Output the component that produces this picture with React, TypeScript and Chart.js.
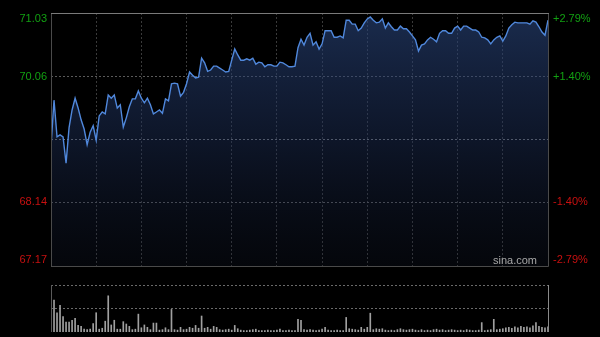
import React, { useEffect, useRef } from 'react';
import { Chart, registerables } from 'chart.js';

Chart.register(...registerables);

// ---- data (2-minute samples over a 330-minute HK trading session) ----
const prices = [
  68.99, 69.70, 69.14, 69.17, 69.14, 68.74, 69.28, 69.55, 69.73, 69.58,
  69.40, 69.26, 69.02, 69.21, 69.31, 69.09, 69.46, 69.52, 69.49, 69.78,
  69.73, 69.78, 69.58, 69.63, 69.29, 69.43, 69.60, 69.72, 69.72, 69.84,
  69.73, 69.66, 69.73, 69.63, 69.49, 69.52, 69.55, 69.50, 69.72, 69.69,
  69.95, 69.96, 69.95, 69.76, 69.82, 69.95, 70.13, 70.08, 70.04, 70.05,
  70.34, 70.27, 70.14, 70.16, 70.22, 70.22, 70.19, 70.16, 70.13, 70.14,
  70.31, 70.48, 70.39, 70.31, 70.31, 70.33, 70.31, 70.34, 70.25, 70.28,
  70.27, 70.21, 70.24, 70.24, 70.22, 70.22, 70.28, 70.27, 70.24, 70.21,
  70.21, 70.22, 70.50, 70.63, 70.54, 70.66, 70.72, 70.54, 70.59, 70.48,
  70.56, 70.76, 70.76, 70.76, 70.66, 70.66, 70.68, 70.65, 70.92, 70.92,
  70.86, 70.86, 70.76, 70.80, 70.88, 70.94, 70.97, 70.92, 70.88, 70.89,
  70.94, 70.80, 70.88, 70.82, 70.77, 70.77, 70.83, 70.79, 70.79, 70.74,
  70.68, 70.62, 70.45, 70.54, 70.56, 70.62, 70.66, 70.63, 70.59, 70.72,
  70.76, 70.76, 70.72, 70.72, 70.80, 70.83, 70.77, 70.83, 70.83, 70.80,
  70.77, 70.77, 70.74, 70.66, 70.65, 70.62, 70.56, 70.62, 70.66, 70.68,
  70.60, 70.68, 70.80, 70.85, 70.89, 70.88, 70.88, 70.88, 70.88, 70.86,
  70.91, 70.89, 70.82, 70.74, 70.69, 70.92,
];

const volumes = [
  54, 68, 41, 57, 33, 21, 21, 25, 29, 14,
  12, 6, 5, 6, 18, 41, 6, 8, 23, 77,
  15, 25, 6, 6, 22, 17, 12, 5, 6, 38,
  9, 15, 10, 5, 19, 19, 4, 5, 9, 5,
  48, 5, 4, 10, 5, 6, 10, 8, 14, 8,
  34, 8, 10, 6, 12, 10, 5, 4, 5, 6,
  4, 14, 7, 4, 3, 3, 4, 5, 6, 3,
  3, 3, 4, 3, 3, 4, 6, 3, 3, 4,
  3, 3, 27, 25, 5, 4, 5, 4, 3, 4,
  6, 10, 4, 3, 3, 4, 3, 3, 31, 7,
  6, 5, 4, 10, 6, 10, 40, 5, 7, 6,
  7, 4, 3, 4, 3, 5, 7, 5, 4, 5,
  6, 4, 3, 5, 3, 4, 3, 5, 6, 4,
  5, 3, 4, 5, 4, 3, 4, 3, 5, 4,
  3, 3, 4, 20, 3, 4, 5, 27, 5, 6,
  7, 9, 10, 8, 11, 9, 12, 10, 11, 9,
  13, 20, 12, 10, 9, 11,
];

const prevClose = 69.10;
const priceMin = 67.17;
const priceMax = 71.03;
const levelValues = [71.03, 70.06, 68.14, 67.17];
const leftLabels = ['71.03', '70.06', '68.14', '67.17'];
const rightLabels = ['+2.79%', '+1.40%', '-1.40%', '-2.79%'];
const sessionMinutes = 330;
const sampleMinutes = 2;
const gridMinutes = 30;
const volumeMax = 100;

const FONT = '11px "Liberation Sans", Arial, sans-serif';

const priceOverlay = {
  id: 'priceOverlay',
  afterDraw(chart: any) {
    const { ctx, chartArea: a, scales } = chart;
    const ys = scales.y;
    ctx.save();
    ctx.lineWidth = 1;
    ctx.strokeStyle = '#4a4a4a';
    ctx.beginPath();
    ctx.moveTo(a.left + 0.5, a.top);
    ctx.lineTo(a.left + 0.5, a.bottom + 0.5);
    ctx.lineTo(a.right + 0.5, a.bottom + 0.5);
    ctx.lineTo(a.right + 0.5, a.top);
    ctx.stroke();
    ctx.strokeStyle = '#7a7a7a';
    ctx.beginPath();
    ctx.moveTo(a.left, a.top + 0.5);
    ctx.lineTo(a.right + 1, a.top + 0.5);
    ctx.stroke();
    ctx.font = FONT;
    ctx.textBaseline = 'middle';
    levelValues.forEach((v, i) => {
      let y = ys.getPixelForValue(v);
      if (i === 0) y += 6;
      if (i === levelValues.length - 1) y -= 6;
      const up = v > prevClose;
      ctx.fillStyle = up ? '#12a012' : '#c81010';
      ctx.textAlign = 'right';
      ctx.fillText(leftLabels[i], a.left - 4, y);
      ctx.textAlign = 'left';
      ctx.fillText(rightLabels[i], a.right + 5, y);
    });
    ctx.fillStyle = '#a8a8a8';
    ctx.textAlign = 'right';
    ctx.fillText('sina.com', a.right - 11, a.bottom - 5);
    ctx.restore();
  },
};

const volumeOverlay = {
  id: 'volumeOverlay',
  afterDraw(chart: any) {
    const { ctx, chartArea: a } = chart;
    ctx.save();
    ctx.lineWidth = 1;
    ctx.strokeStyle = '#5a5a5a';
    ctx.beginPath();
    ctx.moveTo(a.left + 0.5, a.top);
    ctx.lineTo(a.left + 0.5, a.bottom);
    ctx.stroke();
    ctx.strokeStyle = '#8a8a8a';
    ctx.beginPath();
    ctx.moveTo(a.right + 0.5, a.top);
    ctx.lineTo(a.right + 0.5, a.bottom);
    ctx.stroke();
    ctx.restore();
  },
};

export default function App() {
  const priceRef = useRef<HTMLCanvasElement>(null);
  const volRef = useRef<HTMLCanvasElement>(null);

  useEffect(() => {
    document.body.style.margin = '0';
    document.body.style.background = '#000';
    const priceChart = new Chart(priceRef.current!, {
      type: 'line',
      data: {
        datasets: [
          {
            data: prices.map((p, i) => ({ x: i * sampleMinutes, y: p })),
            borderColor: '#5088dc',
            borderWidth: 1.4,
            pointRadius: 0,
            tension: 0,
            fill: 'start',
            backgroundColor: (c: any) => {
              const a = c.chart.chartArea;
              if (!a) return 'rgba(0,0,0,0)';
              const g = c.chart.ctx.createLinearGradient(0, a.top, 0, a.bottom);
              g.addColorStop(0, 'rgba(42,70,125,0.62)');
              g.addColorStop(0.5, 'rgba(30,48,90,0.45)');
              g.addColorStop(1, 'rgba(20,28,50,0.22)');
              return g;
            },
          },
        ],
      },
      options: {
        responsive: false,
        animation: false,
        layout: { padding: { left: 51, right: 52, top: 13, bottom: 9 } },
        plugins: { legend: { display: false }, tooltip: { enabled: false } },
        scales: {
          x: {
            type: 'linear',
            min: 0,
            max: sessionMinutes,
            ticks: { display: false, stepSize: gridMinutes },
            grid: { color: '#3a3a3a', drawTicks: false, lineWidth: 1 },
            border: { display: false, dash: [2, 2] },
          },
          y: {
            min: priceMin,
            max: priceMax,
            afterBuildTicks: (s: any) => {
              s.ticks = [priceMin, 68.14, prevClose, 70.06, priceMax].map((v) => ({ value: v }));
            },
            ticks: { display: false },
            grid: {
              color: (c: any) => (c.tick && c.tick.value === prevClose ? '#7a7a7a' : '#5a5a5a'),
              drawTicks: false,
              lineWidth: 1,
            },
            border: { display: false, dash: [2, 2] },
          },
        },
      },
      plugins: [priceOverlay],
    });

    const volChart = new Chart(volRef.current!, {
      type: 'bar',
      data: {
        datasets: [
          {
            data: volumes.map((v, i) => ({ x: i * sampleMinutes, y: v })),
            backgroundColor: '#a0a0a0',
            barThickness: 1,
          },
        ],
      },
      options: {
        responsive: false,
        animation: false,
        layout: { padding: { left: 51, right: 52, top: 10, bottom: 5 } },
        plugins: { legend: { display: false }, tooltip: { enabled: false } },
        scales: {
          x: {
            type: 'linear',
            min: 0,
            max: sessionMinutes,
            offset: false,
            display: false,
            grid: { offset: false },
          },
          y: {
            min: 0,
            max: volumeMax,
            afterBuildTicks: (s: any) => {
              s.ticks = [volumeMax / 2, volumeMax].map((v) => ({ value: v }));
            },
            ticks: { display: false },
            grid: { color: '#6a6a6a', drawTicks: false, lineWidth: 1 },
            border: { display: false, dash: [2, 2] },
          },
        },
      },
      plugins: [volumeOverlay],
    });

    return () => {
      priceChart.destroy();
      volChart.destroy();
    };
  }, []);

  return (
    <div style={{ position: 'relative', width: 600, height: 337, background: '#000', overflow: 'hidden' }}>
      <canvas ref={priceRef} width={600} height={275} style={{ position: 'absolute', left: 0, top: 0 }} />
      <canvas ref={volRef} width={600} height={62} style={{ position: 'absolute', left: 0, top: 275 }} />
    </div>
  );
}
